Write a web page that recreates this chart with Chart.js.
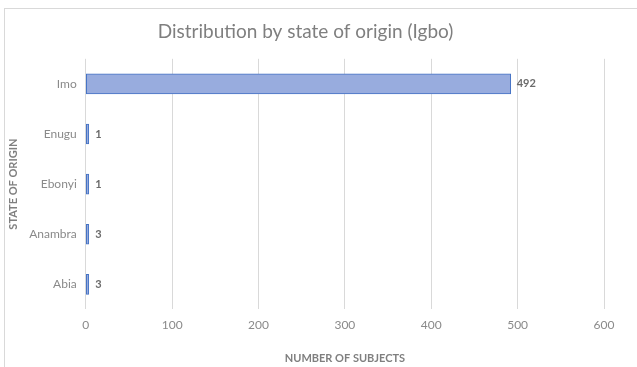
<!DOCTYPE html>
<html>
<head>
<meta charset="utf-8">
<script src="https://cdn.jsdelivr.net/npm/chart.js@4"></script>
<style>
  body { margin: 0; background: #fff; }
  #wrap { position: relative; width: 637px; height: 367px; }
  #frame {
    position: absolute; left: 4px; top: 8px; width: 640px; height: 370px;
    border-top: 1px solid #d9d9d9; border-left: 1px solid #d9d9d9;
  }
  canvas { position: absolute; left: 0; top: 0; }
</style>
</head>
<body>
<div id="wrap">
  <div id="frame"></div>
  <canvas id="chart" width="637" height="367"></canvas>
</div>
<script>
// Данные
const states = ['Imo', 'Enugu', 'Ebonyi', 'Anambra', 'Abia'];
const subjects = [492, 1, 1, 3, 3];
const xTicks = [0, 100, 200, 300, 400, 500, 600];

const textGray = '#7f7f7f';
const labelGray = '#8a8a8a';
const gridGray = '#d9d9d9';
const font = 'Lato, "Open Sans", sans-serif';

// подписи значений у концов столбцов
const barLabels = {
    id: 'barLabels',
    afterDatasetsDraw(chart) {
        const ctx = chart.ctx;
        const meta = chart.getDatasetMeta(0);
        ctx.save();
        ctx.font = 'bold 11px ' + font;
        ctx.fillStyle = '#6b6b6b';
        ctx.textBaseline = 'middle';
        ctx.textAlign = 'left';
        meta.data.forEach((bar, i) => {
            ctx.fillText(String(subjects[i]), Math.max(bar.x, bar.base + 3) + 6, bar.y);
        });
        ctx.restore();
    }
};

new Chart(document.getElementById('chart').getContext('2d'), {
    type: 'bar',
    data: {
        labels: states,
        datasets: [{
            data: subjects,
            backgroundColor: '#98acde',
            borderColor: '#4472c4',
            borderWidth: 1,
            borderSkipped: false,
            minBarLength: 3,
            barThickness: 20
        }]
    },
    options: {
        indexAxis: 'y',
        responsive: false,
        animation: false,
        layout: { padding: { top: 8, right: 33, bottom: 2, left: 7 } },
        plugins: {
            legend: { display: false },
            tooltip: { enabled: false },
            title: {
                display: true,
                text: 'Distribution by state of origin (Igbo)',
                color: textGray,
                font: { family: font, size: 19, weight: 'normal' },
                padding: { top: 12, bottom: 16 }
            }
        },
        scales: {
            x: {
                min: 0,
                max: 600,
                afterBuildTicks(axis) { axis.ticks = xTicks.map(v => ({ value: v })); },
                grid: { color: gridGray, drawTicks: false },
                border: { display: false },
                ticks: { color: labelGray, font: { family: font, size: 12 }, padding: 9 },
                title: {
                    display: true,
                    text: 'NUMBER OF SUBJECTS',
                    color: textGray,
                    font: { family: font, size: 11, weight: 'bold' },
                    padding: { top: 10, bottom: 0 }
                }
            },
            y: {
                grid: { display: false, drawTicks: false },
                border: { display: false },
                ticks: { color: labelGray, font: { family: font, size: 12 }, padding: 9 },
                title: {
                    display: true,
                    text: 'STATE OF ORIGIN',
                    color: textGray,
                    font: { family: font, size: 11, weight: 'bold' },
                    padding: { top: 0, bottom: 0 }
                }
            }
        }
    },
    plugins: [barLabels]
});
</script>
</body>
</html>
